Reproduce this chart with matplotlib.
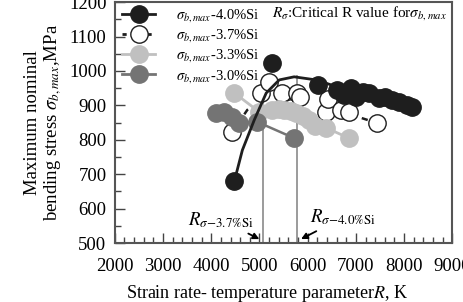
import matplotlib
matplotlib.use("Agg")
import matplotlib.pyplot as plt
from matplotlib.lines import Line2D
from matplotlib.ticker import MultipleLocator

plt.rcParams['font.family'] = ['Liberation Serif', 'DejaVu Serif']
plt.rcParams['mathtext.fontset'] = 'stix'

# 4.0%Si (filled black)
r_40 = [4479, 5264, 6215, 6607, 6750, 6897, 7000, 7150, 7269, 7475, 7600, 7744, 7900, 8054, 8157]
s_40 = [680, 1023, 959, 945, 930, 951, 924, 940, 936, 922, 925, 916, 910, 901, 895]
fit_r_40 = [4479, 4645, 4893, 5140, 5409, 5719, 6174, 6650, 7269, 7750, 8150]
fit_s_40 = [680, 770, 858, 936, 974, 983, 974, 952, 938, 920, 902]

# 3.7%Si (open)
r_37 = [4438, 5037, 5202, 5471, 5657, 5781, 5850, 6380, 6421, 6690, 6855, 7434]
s_37 = [823, 936, 968, 936, 892, 936, 925, 881, 919, 887, 881, 849]
fit_r_37 = [4438, 4748, 5079, 5500, 6000, 6600, 7124, 7434]
fit_s_37 = [823, 887, 922, 930, 915, 890, 863, 849]

# 3.3%Si (light grey)
r_33 = [4479, 4996, 5264, 5400, 5512, 5650, 5760, 5900, 6029, 6150, 6380, 6855]
s_33 = [936, 881, 887, 890, 887, 885, 878, 870, 858, 840, 835, 805]

# 3.0%Si (dark grey)
r_30 = [4107, 4273, 4438, 4583, 4955, 5719]
s_30 = [878, 881, 866, 849, 852, 805]

# critical R values
r_crit = [5079, 5781]
s_crit = [922, 985]
crit_labels = [r'$R_{\sigma\mathrm{-3.7\%Si}}$', r'$R_{\sigma\mathrm{-4.0\%Si}}$']

fig = plt.figure(figsize=(4.63, 3.02), dpi=100)
ax = fig.add_axes([0.248, 0.195, 0.729, 0.798])

c40, c33, c30 = '#1e1e1e', '#c0c0c0', '#747474'
ms = 12.5

# critical lines
for r, s in zip(r_crit, s_crit):
    ax.plot([r, r], [500, s], color='#8a8a8a', lw=1.2, zorder=1)

ax.plot(fit_r_37, fit_s_37, color=c40, lw=1.8, ls=(0, (2.5, 6)), zorder=2)
ax.plot(r_37, s_37, 'o', mfc='white', mec=c40, mew=1.0, ms=ms, zorder=3)
ax.plot(r_33, s_33, '-o', color=c33, lw=2.0, ms=ms, zorder=4)
ax.plot(r_30, s_30, '-o', color=c30, lw=1.8, ms=ms, zorder=5)
ax.plot(fit_r_40, fit_s_40, color=c40, lw=2.0, zorder=6)
ax.plot(r_40, s_40, 'o', color=c40, ms=ms, zorder=7)

ax.set_xlim(2000, 9000)
ax.set_ylim(500, 1200)
ax.xaxis.set_major_locator(MultipleLocator(1000))
ax.xaxis.set_minor_locator(MultipleLocator(200))
ax.yaxis.set_major_locator(MultipleLocator(100))
ax.yaxis.set_minor_locator(MultipleLocator(50))
ax.tick_params(which='both', direction='in', labelsize=13.5, color='#444444')
ax.tick_params(which='major', length=7, width=1.0)
ax.tick_params(which='minor', length=4, width=1.0)
ax.tick_params(axis='x', pad=11)
ax.tick_params(axis='y', pad=6)
for sp in ax.spines.values():
    sp.set_color('#555555')
    sp.set_linewidth(1.5)

ax.set_xlabel(r'Strain rate- temperature parameter$R$, K', fontsize=13)
ax.xaxis.set_label_coords(0.45, -0.165)
ax.set_ylabel('Maximum nominal\n' + r'bending stress $\sigma_{b,max}$,MPa', fontsize=13.5,
              linespacing=1.1)
ax.yaxis.set_label_coords(-0.15, 0.5)

handles = [
    Line2D([], [], color=c40, lw=2, marker='o', ms=ms),
    Line2D([], [], color=c40, lw=2, ls=(0, (1.5, 3)), marker='o', ms=ms, mfc='white', mec=c40),
    Line2D([], [], color=c33, lw=2, marker='o', ms=ms),
    Line2D([], [], color=c30, lw=2, marker='o', ms=ms),
]
labels = [r'$\sigma_{b,max}$-4.0%Si', r'$\sigma_{b,max}$-3.7%Si',
          r'$\sigma_{b,max}$-3.3%Si', r'$\sigma_{b,max}$-3.0%Si']
ax.legend(handles, labels, loc='upper left', bbox_to_anchor=(-0.005, 1.015), frameon=False,
          fontsize=10.5, handlelength=2.3, handletextpad=1.4, labelspacing=0.22,
          borderaxespad=0.2)

ax.text(0.985, 0.955, r'$R_{\sigma}$:Critical R value for$\sigma_{b,max}$',
        transform=ax.transAxes, ha='right', va='center', fontsize=11)

ax.annotate(crit_labels[0], xy=(r_crit[0] - 30, 508), xytext=(4880, 568),
            ha='right', va='center', fontsize=13.5,
            arrowprops=dict(arrowstyle='-|>', color='black', lw=1.3, mutation_scale=9))
ax.annotate(crit_labels[1], xy=(r_crit[1] + 30, 508), xytext=(6050, 575),
            ha='left', va='center', fontsize=13.5,
            arrowprops=dict(arrowstyle='-|>', color='black', lw=1.3, mutation_scale=9))

fig.savefig('out.png', dpi=100)
